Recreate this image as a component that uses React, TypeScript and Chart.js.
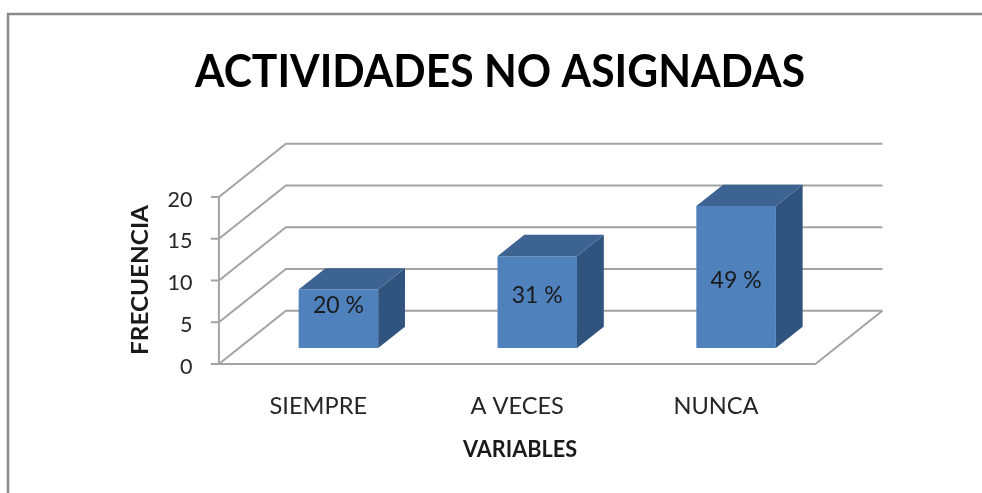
import React, { useEffect, useRef } from "react";
import { Chart, registerables } from "chart.js";

Chart.register(...registerables);

// ---------- data ----------
const chartTitle = "ACTIVIDADES NO ASIGNADAS";
const categories = ["SIEMPRE", "A VECES", "NUNCA"];
const frecuencia = [7, 11, 17];
const yTicks = [0, 5, 10, 15, 20];
const xAxisTitle = "VARIABLES";
const yAxisTitle = "FRECUENCIA";

// ---------- style ----------
const FONT = "Lato, 'Open Sans', sans-serif";
const GRID = "#a3a3a3";
const FRONT_COLOR = "#4f81bd";
const TOP_COLOR = "#3c6392";
const SIDE_COLOR = "#31547f";
const DEPTH_X = 67; // full floor depth (projection)
const DEPTH_Y = -53.3;
const FRONT = 0.3; // bar front plane depth fraction
const BAR_D = 0.4; // bar depth fraction

function capText(
  ctx: CanvasRenderingContext2D,
  text: string,
  cx: number,
  cy: number,
  capH: number,
  weight: string,
  opts: { targetW?: number; align?: CanvasTextAlign; rotate?: boolean } = {}
) {
  const size = capH / 0.72;
  ctx.font = `${weight} ${size}px ${FONT}`;
  const w = ctx.measureText(text).width;
  const sx = opts.targetW ? opts.targetW / w : 1;
  ctx.save();
  ctx.translate(cx, cy);
  if (opts.rotate) ctx.rotate(-Math.PI / 2);
  ctx.scale(sx, 1);
  ctx.textAlign = opts.align || "center";
  ctx.textBaseline = "alphabetic";
  ctx.fillText(text, 0, capH / 2);
  ctx.restore();
}

const bar3d = {
  id: "bar3d",
  beforeDatasetsDraw(chart: any) {
    const { ctx, chartArea, scales } = chart;
    const { left, right } = chartArea;
    const y = scales.y;
    const fx = -FRONT * DEPTH_X,
      fy = -FRONT * DEPTH_Y;
    const bx = (1 - FRONT) * DEPTH_X,
      by = (1 - FRONT) * DEPTH_Y;
    ctx.save();
    ctx.strokeStyle = GRID;
    ctx.lineWidth = 2;
    yTicks.forEach((t) => {
      const yp = y.getPixelForValue(t);
      ctx.beginPath();
      ctx.moveTo(left + fx, yp + fy);
      ctx.lineTo(left + bx, yp + by);
      ctx.lineTo(right + bx, yp + by);
      ctx.stroke();
      ctx.beginPath();
      ctx.moveTo(left + fx - 8, yp + fy);
      ctx.lineTo(left + fx, yp + fy);
      ctx.stroke();
    });
    const y0 = y.getPixelForValue(yTicks[0]);
    const yTop = y.getPixelForValue(yTicks[yTicks.length - 1]);
    ctx.beginPath();
    ctx.moveTo(left + fx, yTop + fy);
    ctx.lineTo(left + fx, y0 + fy);
    ctx.lineTo(right + fx, y0 + fy);
    ctx.lineTo(right + bx, y0 + by);
    ctx.stroke();
    ctx.restore();
  },
  afterDatasetsDraw(chart: any) {
    const { ctx, scales } = chart;
    const y = scales.y;
    const dx = BAR_D * DEPTH_X,
      dy = BAR_D * DEPTH_Y;
    const meta = chart.getDatasetMeta(0);
    const total = frecuencia.reduce((a, b) => a + b, 0);
    ctx.save();
    meta.data.forEach((bar: any, i: number) => {
      const p = bar.getProps(["x", "y", "base", "width"], true);
      const l = p.x - p.width / 2,
        r = p.x + p.width / 2,
        top = p.y,
        bot = p.base;
      // side
      ctx.fillStyle = SIDE_COLOR;
      ctx.beginPath();
      ctx.moveTo(r, top);
      ctx.lineTo(r + dx, top + dy);
      ctx.lineTo(r + dx, bot + dy);
      ctx.lineTo(r, bot);
      ctx.closePath();
      ctx.fill();
      // top
      ctx.fillStyle = TOP_COLOR;
      ctx.beginPath();
      ctx.moveTo(l, top);
      ctx.lineTo(l + dx, top + dy);
      ctx.lineTo(r + dx, top + dy);
      ctx.lineTo(r, top);
      ctx.closePath();
      ctx.fill();
      // label
      const v = frecuencia[i];
      const pct = Math.round((v / total) * 100);
      const ly = y.getPixelForValue(2.95 + 0.31 * v);
      ctx.fillStyle = "#1a1a1a";
      capText(ctx, `${pct} %`, p.x, ly, 16.5, "normal", { targetW: 51 });
    });
    ctx.restore();
  },
  afterDraw(chart: any) {
    const { ctx, chartArea, scales } = chart;
    const { left } = chartArea;
    const x = scales.x,
      y = scales.y;
    const fx = -FRONT * DEPTH_X,
      fy = -FRONT * DEPTH_Y;
    ctx.save();
    // border
    ctx.strokeStyle = "#8a8a8a";
    ctx.lineWidth = 2.5;
    ctx.strokeRect(8, 14, 1200, 800);
    // title
    ctx.fillStyle = "#000";
    capText(ctx, chartTitle, 500, 70, 33.5, "bold", { targetW: 610 });
    // y ticks
    ctx.fillStyle = "#262626";
    yTicks.forEach((t) => {
      const yp = y.getPixelForValue(t) + fy;
      capText(ctx, String(t), left + fx - 26.5, yp + 2, 15.5, "normal", {
        align: "right",
      });
    });
    // categories
    const y0 = y.getPixelForValue(0) + fy;
    categories.forEach((c, i) => {
      capText(ctx, c, x.getPixelForValue(i) + fx, y0 + 41.5, 17, "normal");
    });
    // axis titles
    ctx.fillStyle = "#1a1a1a";
    capText(ctx, xAxisTitle, 520, 448.5, 17, "bold", { targetW: 114 });
    capText(ctx, yAxisTitle, 140, 280, 16.5, "bold", {
      targetW: 150,
      rotate: true,
    });
    ctx.restore();
  },
};

export default function App() {
  const ref = useRef<HTMLCanvasElement>(null);
  useEffect(() => {
    if (!ref.current) return;
    const chart = new Chart(ref.current, {
      type: "bar",
      data: {
        labels: categories,
        datasets: [
          {
            data: frecuencia,
            backgroundColor: FRONT_COLOR,
            borderWidth: 0,
            barPercentage: 0.4,
            categoryPercentage: 1,
          },
        ],
      },
      options: {
        responsive: false,
        devicePixelRatio: 1,
        animation: false,
        layout: { padding: { left: 239, right: 146.5, top: 181, bottom: 145 } },
        plugins: {
          legend: { display: false },
          title: { display: false },
          tooltip: { enabled: false },
        },
        scales: {
          x: { display: false },
          y: { display: false, min: 0, max: 20 },
        },
      },
      plugins: [bar3d],
    });
    return () => chart.destroy();
  }, []);
  return (
    <div style={{ position: "fixed", left: 0, top: 0, width: 982, height: 493, background: "#fff" }}>
      <canvas ref={ref} width={982} height={493} style={{ display: "block" }} />
    </div>
  );
}
